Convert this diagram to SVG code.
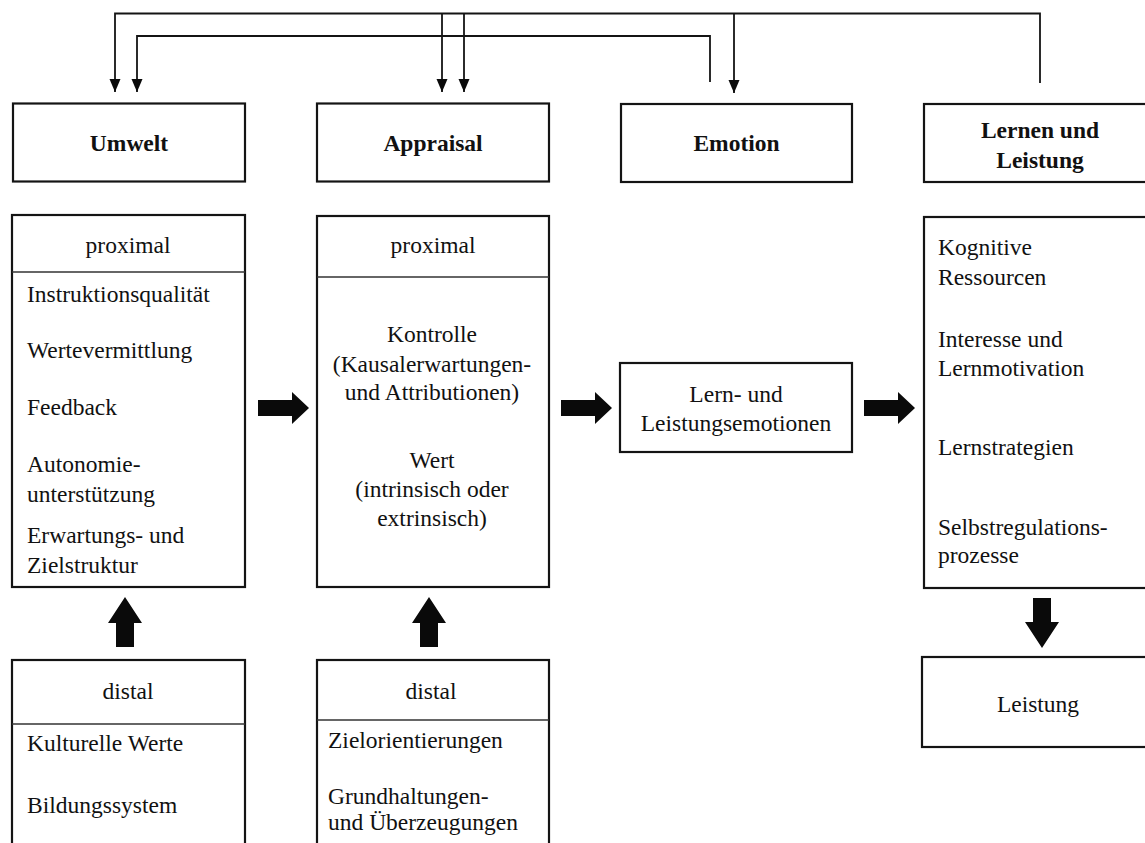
<svg xmlns="http://www.w3.org/2000/svg" width="1145" height="843" viewBox="0 0 1145 843">
<style>
.box{fill:#fff;stroke:#141414;stroke-width:2.2}
.div{stroke:#333;stroke-width:1.3;fill:none}
.fb{fill:none;stroke:#141414;stroke-width:1.8}
.blk{fill:#0a0a0a}
.hd{font-family:"Liberation Serif","Times New Roman",serif;font-weight:bold;font-size:23.5px;fill:#111;text-anchor:middle}
.tx{font-family:"Liberation Serif","Times New Roman",serif;font-size:23.5px;fill:#111}
.c{text-anchor:middle}
</style>
<defs>
<marker id="ah" markerUnits="userSpaceOnUse" markerWidth="14" markerHeight="14" viewBox="0 0 14 14" refX="13" refY="7" orient="auto">
<path d="M0,1.5 L13,7 L0,12.5 Z" fill="#0a0a0a"/>
</marker>
<path id="bR" d="M0,-8 H34 V-16 L51,0 L34,16 V8 H0 Z"/>
<path id="bU" d="M-9,0 V-24 H-17 L0,-50 L17,-24 H9 V0 Z"/>
</defs>
<rect width="1145" height="843" fill="#fff"/>

<g id="connectors">
<path class="fb" d="M1040,83 V13.5 H115 V92" marker-end="url(#ah)"/>
<path class="fb" d="M442,13.5 V92" marker-end="url(#ah)"/>
<path class="fb" d="M464,13.5 V92" marker-end="url(#ah)"/>
<path class="fb" d="M734,13.5 V93" marker-end="url(#ah)"/>
<path class="fb" d="M710,82 V36 H137 V92" marker-end="url(#ah)"/>
<use href="#bR" class="blk" transform="translate(258,408)"/>
<use href="#bR" class="blk" transform="translate(561,408)"/>
<use href="#bR" class="blk" transform="translate(864,408)"/>
<use href="#bU" class="blk" transform="translate(125,647)"/>
<use href="#bU" class="blk" transform="translate(429,647)"/>
<use href="#bU" class="blk" transform="translate(1042,598) rotate(180)"/>
</g>

<g id="umwelt">
<rect class="box" x="13" y="103.5" width="232" height="78"/>
<text class="hd" x="129" y="151">Umwelt</text>
</g>
<g id="appraisal">
<rect class="box" x="317" y="103.5" width="232" height="78"/>
<text class="hd" x="433" y="151">Appraisal</text>
</g>
<g id="emotion">
<rect class="box" x="621" y="104" width="231" height="78"/>
<text class="hd" x="736.5" y="151">Emotion</text>
</g>
<g id="lernen-leistung">
<rect class="box" x="924" y="104" width="232" height="78"/>
<text class="hd" x="1040" y="138">Lernen und</text>
<text class="hd" x="1040" y="168">Leistung</text>
</g>

<g id="umwelt-proximal">
<rect class="box" x="12" y="215" width="233" height="372"/>
<line class="div" x1="12" y1="272" x2="245" y2="272"/>
<text class="tx c" x="128" y="253">proximal</text>
<text class="tx" x="27" y="302">Instruktionsqualität</text>
<text class="tx" x="27" y="358">Wertevermittlung</text>
<text class="tx" x="27" y="415">Feedback</text>
<text class="tx" x="27" y="472">Autonomie-</text>
<text class="tx" x="27" y="502">unterstützung</text>
<text class="tx" x="27" y="543">Erwartungs- und</text>
<text class="tx" x="27" y="573">Zielstruktur</text>
</g>

<g id="appraisal-proximal">
<rect class="box" x="317" y="216" width="232" height="371"/>
<line class="div" x1="317" y1="277" x2="549" y2="277"/>
<text class="tx c" x="433" y="253">proximal</text>
<text class="tx c" x="432" y="342">Kontrolle</text>
<text class="tx c" x="432" y="372">(Kausalerwartungen-</text>
<text class="tx c" x="432" y="400">und Attributionen)</text>
<text class="tx c" x="432" y="468">Wert</text>
<text class="tx c" x="432" y="497">(intrinsisch oder</text>
<text class="tx c" x="432" y="526">extrinsisch)</text>
</g>

<g id="lern-leistungsemotionen">
<rect class="box" x="620" y="363" width="232" height="89"/>
<text class="tx c" x="736" y="402">Lern- und</text>
<text class="tx c" x="736" y="431">Leistungsemotionen</text>
</g>

<g id="lernen-details">
<rect class="box" x="924" y="217" width="232" height="371"/>
<text class="tx" x="938" y="255">Kognitive</text>
<text class="tx" x="938" y="285">Ressourcen</text>
<text class="tx" x="938" y="347">Interesse und</text>
<text class="tx" x="938" y="376">Lernmotivation</text>
<text class="tx" x="938" y="455">Lernstrategien</text>
<text class="tx" x="938" y="535">Selbstregulations-</text>
<text class="tx" x="938" y="563">prozesse</text>
</g>

<g id="umwelt-distal">
<rect class="box" x="12" y="660" width="233" height="200"/>
<line class="div" x1="12" y1="724" x2="245" y2="724"/>
<text class="tx c" x="128" y="699">distal</text>
<text class="tx" x="27" y="751">Kulturelle Werte</text>
<text class="tx" x="27" y="813">Bildungssystem</text>
</g>

<g id="appraisal-distal">
<rect class="box" x="317" y="660" width="232" height="200"/>
<line class="div" x1="317" y1="720" x2="549" y2="720"/>
<text class="tx c" x="431" y="699">distal</text>
<text class="tx" x="328" y="748">Zielorientierungen</text>
<text class="tx" x="328" y="804">Grundhaltungen-</text>
<text class="tx" x="328" y="830">und Überzeugungen</text>
</g>

<g id="leistung">
<rect class="box" x="922" y="657" width="234" height="90"/>
<text class="tx c" x="1038" y="712">Leistung</text>
</g>
</svg>
